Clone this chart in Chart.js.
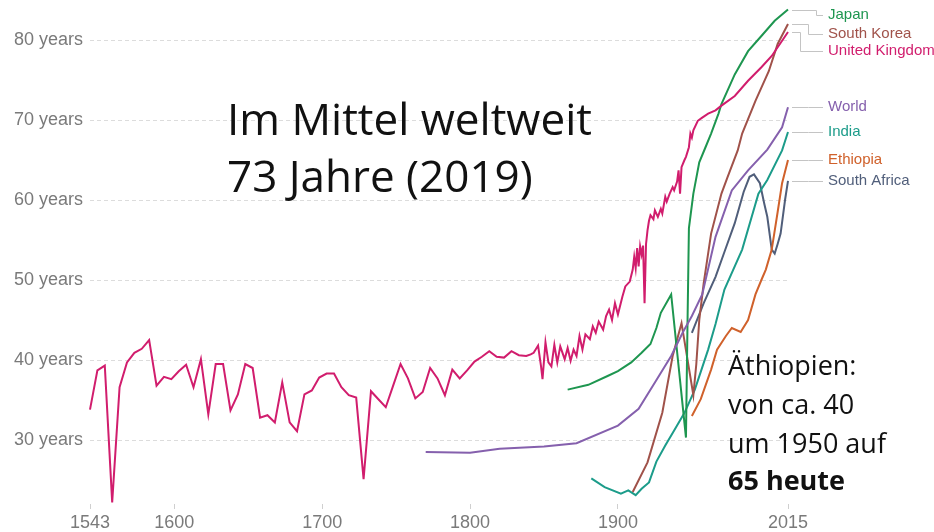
<!DOCTYPE html>
<html>
<head>
<meta charset="utf-8">
<script src="https://cdn.jsdelivr.net/npm/chart.js@4"></script>
<style>
  html, body { margin: 0; background: #fff; }
  #wrap { width: 934px; height: 532px; }
</style>
</head>
<body>
<div id="wrap"><canvas id="chart" width="934" height="532"></canvas></div>
<script>
// Achsen
const xTicks = [1543, 1600, 1700, 1800, 1900, 2015];
const yTicks = [30, 40, 50, 60, 70, 80];

// Lebenserwartung
const ukYears = [1543, 1548, 1553, 1558, 1563, 1568, 1573, 1578, 1583, 1588, 1593, 1598, 1603, 1608, 1613, 1618, 1623, 1628, 1633, 1638,
  1643, 1648, 1653, 1658, 1663, 1668, 1673, 1678, 1683, 1688, 1693, 1698, 1703, 1708, 1713, 1718, 1723, 1728, 1733, 1738,
  1743, 1748, 1753, 1758, 1763, 1768, 1773, 1778, 1783, 1788, 1793, 1798, 1803, 1808, 1813, 1818, 1823, 1828, 1833, 1838,
  1841, 1843, 1846, 1848, 1849, 1851, 1853, 1855, 1857, 1859, 1861, 1864, 1866, 1868, 1870, 1872, 1874, 1876, 1878, 1881,
  1883, 1885, 1887, 1890, 1892, 1894, 1896, 1898, 1900, 1903, 1905, 1908, 1910, 1911, 1912, 1913, 1914, 1915, 1916, 1917,
  1918, 1919, 1920, 1921, 1922, 1924, 1925, 1927, 1929, 1930, 1932, 1933, 1935, 1937, 1938, 1940, 1941, 1942, 1943, 1945,
  1946, 1948, 1949, 1950, 1951, 1954, 1957, 1961, 1966, 1970, 1979, 1988, 1997, 2004, 2011, 2015];
const ukValues = [33.8, 38.7, 39.3, 22.2, 36.6, 39.7, 40.9, 41.4, 42.5, 36.8, 37.9, 37.6, 38.6, 39.4, 36.6, 40.1, 33.2, 39.5, 39.5, 33.7,
  35.7, 39.5, 39.0, 32.8, 33.1, 32.2, 37.2, 32.2, 31.1, 35.7, 36.2, 37.8, 38.3, 38.3, 36.6, 35.6, 35.3, 25.1, 36.1, 35.1,
  34.1, 36.8, 39.5, 37.7, 35.2, 36.0, 39.0, 37.7, 35.6, 38.8, 37.7, 38.7, 39.8, 40.4, 41.1, 40.4, 40.3, 41.1, 40.6, 40.5,
  40.7, 40.9, 41.8, 39.2, 37.6, 42.2, 39.7, 39.2, 41.9, 39.7, 41.7, 40.1, 41.5, 39.9, 41.3, 40.5, 43.0, 41.3, 43.2, 42.6,
  44.2, 43.4, 44.8, 43.8, 45.5, 46.3, 45.0, 47.1, 45.7, 47.9, 49.2, 49.8, 51.3, 52.9, 51.5, 54.0, 51.7, 54.2, 53.2, 54.3,
  47.1, 54.5, 56.2, 57.4, 58.1, 57.6, 58.7, 57.9, 58.9, 58.3, 60.4, 59.8, 60.8, 61.6, 61.2, 62.3, 63.7, 60.8, 64.1, 65.0,
  65.4, 66.6, 68.3, 67.8, 68.7, 69.9, 70.3, 70.8, 71.2, 71.8, 73.0, 74.9, 76.6, 78.0, 79.9, 81.0];

const japanYears = [1866, 1880, 1893, 1900, 1909, 1916, 1922, 1926, 1929, 1936, 1946, 1947, 1948, 1951, 1955, 1959, 1963, 1968, 1970, 1979, 1988, 1997, 2006, 2015];
const japanValues = [36.3, 36.9, 38.0, 38.6, 39.7, 40.9, 42.0, 44.0, 45.9, 48.2, 30.3, 44.0, 56.5, 60.8, 64.7, 66.5, 68.3, 70.8, 72.0, 75.7, 78.6, 80.5, 82.4, 83.8];

const koreaYears = [1910, 1920, 1930, 1937, 1943, 1951, 1953, 1955, 1958, 1963, 1970, 1974, 1981, 1984, 1993, 2002, 2008, 2015];
const koreaValues = [23.5, 27.2, 33.4, 40.5, 44.6, 35.6, 39.5, 45.0, 49.6, 55.8, 60.8, 62.8, 66.2, 68.3, 72.4, 76.1, 79.5, 82.0];

const worldYears = [1770, 1800, 1820, 1850, 1872, 1900, 1914, 1925, 1936, 1944, 1950, 1957, 1966, 1977, 1988, 2001, 2011, 2015];
const worldValues = [28.5, 28.4, 28.9, 29.2, 29.6, 31.8, 33.9, 37.2, 40.5, 43.5, 45.5, 48.2, 55.4, 61.2, 63.7, 66.3, 69.1, 71.6];

const indiaYears = [1882, 1891, 1902, 1907, 1912, 1916, 1921, 1926, 1932, 1938, 1945, 1952, 1961, 1966, 1972, 1984, 1995, 2001, 2011, 2015];
const indiaValues = [25.2, 24.1, 23.3, 23.7, 23.1, 23.9, 24.7, 27.3, 29.3, 31.2, 33.4, 36.3, 41.3, 44.5, 48.8, 53.8, 60.8, 62.5, 66.2, 68.5];

const ethiopiaYears = [1950, 1956, 1963, 1967, 1973, 1977, 1983, 1988, 1993, 1997, 2000, 2004, 2008, 2011, 2015];
const ethiopiaValues = [33.0, 35.1, 38.8, 41.3, 43.0, 44.0, 43.5, 45.0, 48.2, 50.0, 51.3, 53.8, 58.5, 62.1, 65.0];

const southAfricaYears = [1950, 1958, 1966, 1972, 1979, 1985, 1989, 1992, 1996, 1999, 2001, 2004, 2006, 2008, 2010, 2013, 2015];
const southAfricaValues = [43.4, 47.1, 50.4, 53.5, 57.1, 61.0, 62.9, 63.2, 62.1, 59.5, 57.9, 53.8, 53.3, 54.5, 55.8, 60.0, 62.4];

const series = [
  { name: 'United Kingdom', years: ukYears, values: ukValues, color: '#d11d6d' },
  { name: 'World', years: worldYears, values: worldValues, color: '#8560ad' },
  { name: 'Japan', years: japanYears, values: japanValues, color: '#1e9650' },
  { name: 'South Korea', years: koreaYears, values: koreaValues, color: '#a0524a' },
  { name: 'India', years: indiaYears, values: indiaValues, color: '#1c9c8a' },
  { name: 'Ethiopia', years: ethiopiaYears, values: ethiopiaValues, color: '#d0612b' },
  { name: 'South Africa', years: southAfricaYears, values: southAfricaValues, color: '#505e7a' }
];

// wo die Namen rechts stehen (Wert auf der y-Achse) und wo der Verbinder knickt (px nach Linienende)
const labelSpots = {
  'Japan': { at: 83.1, bend: 28 },
  'South Korea': { at: 80.8, bend: 20 },
  'United Kingdom': { at: 78.6, bend: 12 },
  'World': { at: null, bend: 20 },
  'India': { at: null, bend: 20 },
  'Ethiopia': { at: null, bend: 20 },
  'South Africa': { at: null, bend: 20 }
};

const endLabels = {
  id: 'endLabels',
  afterDatasetsDraw(chart) {
    const { ctx, scales: { x, y } } = chart;
    ctx.save();
    ctx.font = '15px "Liberation Sans", Arial, sans-serif';
    ctx.textBaseline = 'middle';
    chart.data.datasets.forEach(ds => {
      const last = ds.data[ds.data.length - 1];
      const px = x.getPixelForValue(last.x);
      const py = y.getPixelForValue(last.y);
      const spot = labelSpots[ds.label];
      const ly = spot.at == null ? py : y.getPixelForValue(spot.at);
      ctx.strokeStyle = '#c4c4c4';
      ctx.lineWidth = 1;
      ctx.beginPath();
      ctx.moveTo(px + 4, Math.round(py) + 0.5);
      ctx.lineTo(px + spot.bend + 0.5, Math.round(py) + 0.5);
      ctx.lineTo(px + spot.bend + 0.5, Math.round(ly) + 0.5);
      ctx.lineTo(px + 35, Math.round(ly) + 0.5);
      ctx.stroke();
      ctx.fillStyle = ds.borderColor;
      ctx.fillText(ds.label, px + 40, ly);
    });
    ctx.restore();
  }
};

const notes = {
  id: 'notes',
  afterDraw(chart) {
    const { ctx } = chart;
    ctx.save();
    ctx.fillStyle = '#111';
    ctx.textBaseline = 'alphabetic';
    ctx.font = '44px "Open Sans", sans-serif';
    ctx.fillText('Im Mittel weltweit', 227, 135);
    ctx.fillText('73 Jahre (2019)', 227, 192);
    ctx.font = '27px "Open Sans", sans-serif';
    ctx.fillText('Äthiopien:', 728, 375);
    ctx.fillText('von ca. 40', 728, 414);
    ctx.fillText('um 1950 auf', 728, 453);
    ctx.font = 'bold 27px "Open Sans", sans-serif';
    ctx.fillText('65 heute', 728, 490);
    ctx.restore();
  }
};

new Chart(document.getElementById('chart'), {
  type: 'line',
  data: {
    datasets: series.map(s => ({
      label: s.name,
      data: s.years.map((yr, i) => ({ x: yr, y: s.values[i] })),
      borderColor: s.color,
      borderWidth: 2,
      pointRadius: 0,
      fill: false,
      clip: false,
      tension: 0
    }))
  },
  options: {
    responsive: false,
    animation: false,
    layout: { padding: { top: 0, right: 146, bottom: 0, left: 0 } },
    plugins: { legend: { display: false }, tooltip: { enabled: false } },
    scales: {
      x: {
        type: 'linear',
        min: 1543,
        max: 2015,
        afterBuildTicks: s => { s.ticks = xTicks.map(v => ({ value: v })); },
        afterFit: s => { s.height = 28; s.paddingLeft = 0; s.paddingRight = 0; },
        ticks: {
          color: '#7a7a7a',
          padding: 3,
          maxRotation: 0,
          font: { family: '"Liberation Sans", Arial, sans-serif', size: 18 },
          callback: v => String(v)
        },
        grid: { drawOnChartArea: false, tickLength: 5, color: '#cfcfcf' },
        border: { display: false }
      },
      y: {
        min: 22,
        max: 85,
        afterBuildTicks: s => { s.ticks = yTicks.map(v => ({ value: v })); },
        afterFit: s => { s.width = 90; s.paddingTop = 0; s.paddingBottom = 0; },
        ticks: {
          color: '#7a7a7a',
          padding: 7,
          font: { family: '"Liberation Sans", Arial, sans-serif', size: 18 },
          callback: v => v + ' years'
        },
        grid: { color: '#dcdcdc', drawTicks: false },
        border: { display: false, dash: [4, 3] }
      }
    }
  },
  plugins: [endLabels, notes]
});
</script>
</body>
</html>
